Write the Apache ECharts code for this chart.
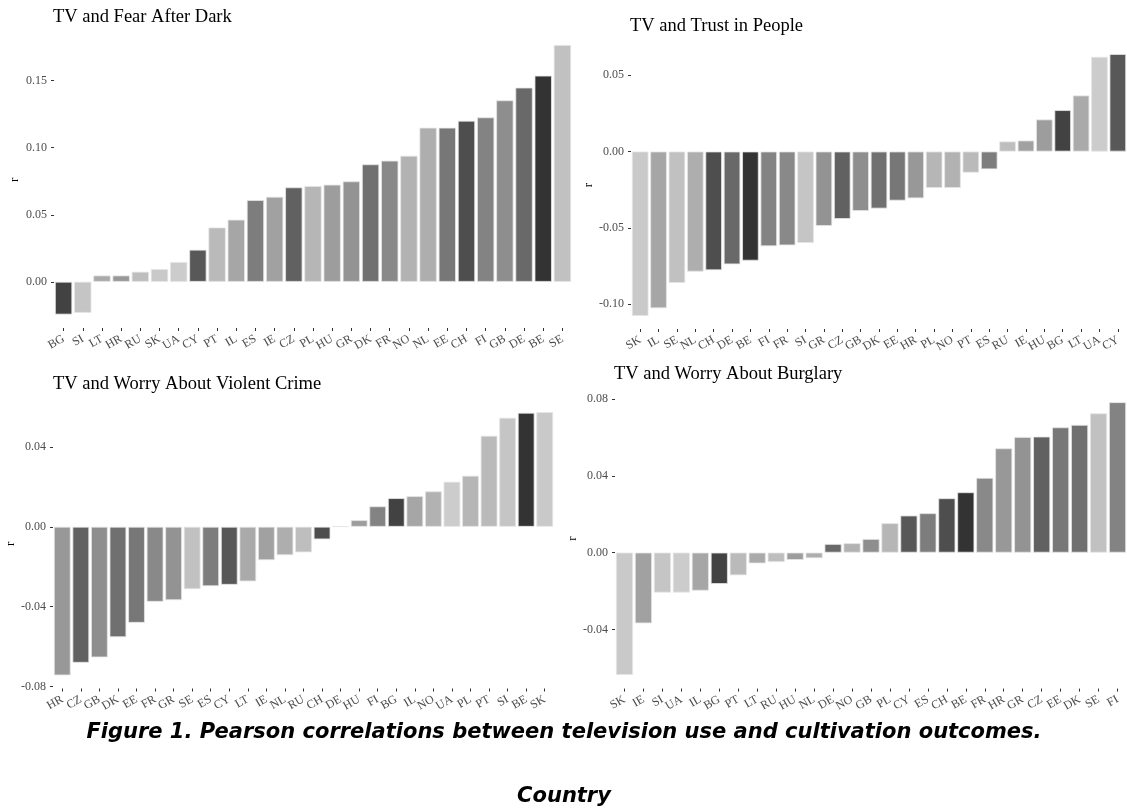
<!DOCTYPE html>
<html>
<head>
<meta charset="utf-8">
<script src="https://cdn.jsdelivr.net/npm/echarts@6/dist/echarts.min.js"></script>
<style>
  html, body { margin: 0; padding: 0; background: #ffffff; }
  #chart { width: 1127px; height: 808px; }
</style>
</head>
<body>
<div id="chart"></div>
<script>
// Pearson r per country, one panel per outcome, countries sorted by r
const fearCountries = ['BG','SI','LT','HR','RU','SK','UA','CY','PT','IL','ES','IE','CZ','PL','HU','GR','DK','FR','NO','NL','EE','CH','FI','GB','DE','BE','SE'];
const fearValues = [-0.0244,-0.0231,0.0047,0.0047,0.0075,0.0095,0.0147,0.0239,0.0405,0.0463,0.0609,0.0634,0.0704,0.0714,0.0724,0.0749,0.0876,0.0903,0.0940,0.1149,0.1149,0.1201,0.1226,0.1353,0.1448,0.1537,0.1766];
const fearTicks = [0, 0.05, 0.10, 0.15];

const trustCountries = ['SK','IL','SE','NL','CH','DE','BE','FI','FR','SI','GR','CZ','GB','DK','EE','HR','PL','NO','PT','ES','RU','IE','HU','BG','LT','UA','CY'];
const trustValues = [-0.1076,-0.1026,-0.0860,-0.0786,-0.0777,-0.0738,-0.0714,-0.0620,-0.0614,-0.0598,-0.0487,-0.0441,-0.0389,-0.0373,-0.0321,-0.0306,-0.0238,-0.0238,-0.0138,-0.0116,0.0066,0.0072,0.0210,0.0271,0.0367,0.0620,0.0638];
const trustTicks = [-0.10, -0.05, 0, 0.05];

const violentCountries = ['HR','CZ','GB','DK','EE','FR','GR','SE','ES','CY','LT','IE','NL','RU','CH','DE','HU','FI','BG','IL','NO','UA','PL','PT','SI','BE','SK'];
const violentValues = [-0.0743,-0.0680,-0.0653,-0.0552,-0.0480,-0.0375,-0.0367,-0.0312,-0.0297,-0.0290,-0.0273,-0.0167,-0.0142,-0.0128,-0.0063,0.0002,0.0033,0.0102,0.0143,0.0153,0.0177,0.0225,0.0255,0.0455,0.0545,0.0570,0.0573];
const violentTicks = [-0.08, -0.04, 0, 0.04];

const burglaryCountries = ['SK','IE','SI','UA','IL','BG','PT','LT','RU','HU','NL','DE','NO','GB','PL','CY','ES','CH','BE','FR','HR','GR','CZ','EE','DK','SE','FI'];
const burglaryValues = [-0.0637,-0.0368,-0.0208,-0.0208,-0.0198,-0.0163,-0.0118,-0.0056,-0.0049,-0.0038,-0.0029,0.0045,0.0049,0.0071,0.0153,0.0193,0.0205,0.0283,0.0314,0.0389,0.0543,0.0602,0.0604,0.0652,0.0665,0.0725,0.0783];
const burglaryTicks = [-0.04, 0, 0.04, 0.08];

// grey fill per country (alphabetical grey scale, dark to light)
const countryGrey = {
  BE:'#333333', BG:'#424242', CH:'#4e4e4e', CY:'#585858', CZ:'#616161', DE:'#696969',
  DK:'#707070', EE:'#777777', ES:'#7d7d7d', FI:'#838383', FR:'#898989', GB:'#8e8e8e',
  GR:'#939393', HR:'#989898', HU:'#9d9d9d', IE:'#a1a1a1', IL:'#a6a6a6', LT:'#aaaaaa',
  NL:'#aeaeae', NO:'#b2b2b2', PL:'#b6b6b6', PT:'#bababa', RU:'#bebebe', SE:'#c1c1c1',
  SI:'#c5c5c5', SK:'#c9c9c9', UA:'#cccccc'
};

const SERIF = '"Liberation Serif", "DejaVu Serif", serif';
const CAPTION_FONT = 'italic bold 21px "DejaVu Sans", Verdana, sans-serif';

const panels = [
  { title: 'TV and Fear After Dark',           cats: fearCountries,     vals: fearValues,     ticks: fearTicks,
    grid: { left: 54,  top: 31.5, width: 518, height: 296.5 }, titlePos: [53, 17] },
  { title: 'TV and Trust in People',           cats: trustCountries,    vals: trustValues,    ticks: trustTicks,
    grid: { left: 631, top: 41,   width: 496, height: 288 },   titlePos: [630, 26] },
  { title: 'TV and Worry About Violent Crime', cats: violentCountries,  vals: violentValues,  ticks: violentTicks,
    grid: { left: 53,  top: 399,  width: 501, height: 289.5 }, titlePos: [53, 384] },
  { title: 'TV and Worry About Burglary',      cats: burglaryCountries, vals: burglaryValues, ticks: burglaryTicks,
    grid: { left: 615, top: 388.6, width: 512, height: 300 },  titlePos: [614, 374] }
];

// ggplot-style 5% expansion of the value range
function expandedRange(vals) {
  const lo = Math.min(0, ...vals), hi = Math.max(0, ...vals);
  const pad = (hi - lo) * 0.05;
  return [lo - pad, hi + pad];
}

const option = {
  backgroundColor: '#ffffff',
  animation: false,
  grid: panels.map(p => Object.assign({ containLabel: false }, p.grid)),
  xAxis: panels.map((p, i) => ({
    type: 'category',
    gridIndex: i,
    data: p.cats,
    axisLine: { show: false, onZero: false },
    axisTick: { show: true, alignWithLabel: true, length: 3, lineStyle: { color: '#333333', width: 1 } },
    axisLabel: { rotate: 30, margin: 10, fontFamily: SERIF, fontSize: 12, color: '#4d4d4d', interval: 0 },
    splitLine: { show: false }
  })),
  yAxis: panels.map((p, i) => {
    const r = expandedRange(p.vals);
    return {
      type: 'value',
      gridIndex: i,
      min: r[0],
      max: r[1],
      name: 'r',
      nameLocation: 'middle',
      nameRotate: 90,
      nameGap: 33,
      nameTextStyle: { fontFamily: SERIF, fontSize: 13, color: '#000000' },
      axisLine: { show: false },
      axisTick: { show: true, length: 3, customValues: p.ticks, lineStyle: { color: '#333333', width: 1 } },
      axisLabel: { customValues: p.ticks, margin: 7, fontFamily: SERIF, fontSize: 12, color: '#4d4d4d',
                   formatter: v => v.toFixed(2) },
      splitLine: { show: false }
    };
  }),
  series: panels.map((p, i) => ({
    type: 'bar',
    xAxisIndex: i,
    yAxisIndex: i,
    barCategoryGap: '10%',
    data: p.vals.map((v, k) => ({
      value: v,
      itemStyle: { color: countryGrey[p.cats[k]], borderColor: '#e4e4e4', borderWidth: 0.8 }
    }))
  })),
  graphic: panels.map(p => ({
    type: 'text',
    x: p.titlePos[0],
    y: p.titlePos[1],
    style: { text: p.title, font: '18.5px ' + SERIF, fill: '#000000', textVerticalAlign: 'middle' }
  })).concat([
    { type: 'text', x: 564, y: 733,
      style: { text: 'Figure 1. Pearson correlations between television use and cultivation outcomes.',
               font: CAPTION_FONT, fill: '#000000', textAlign: 'center', textVerticalAlign: 'middle' } },
    { type: 'text', x: 564, y: 797,
      style: { text: 'Country', font: CAPTION_FONT, fill: '#000000', textAlign: 'center', textVerticalAlign: 'middle' } }
  ])
};

const chart = echarts.init(document.getElementById('chart'), null, { renderer: 'canvas' });
chart.setOption(option);
</script>
</body>
</html>
